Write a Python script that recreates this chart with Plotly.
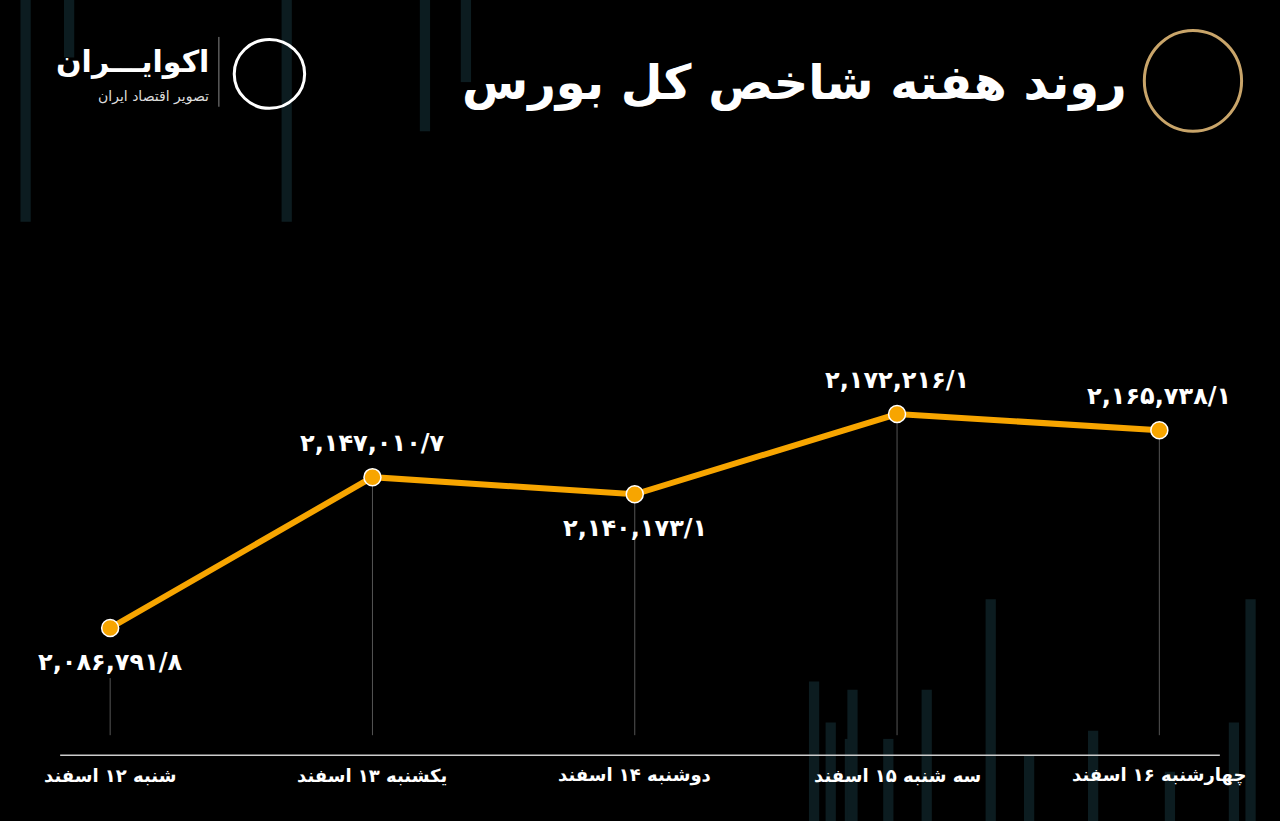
import plotly.graph_objects as go

days = ["شنبه ۱۲ اسفند", "یکشنبه ۱۳ اسفند", "دوشنبه ۱۴ اسفند", "سه شنبه ۱۵ اسفند", "چهارشنبه ۱۶ اسفند"]
index_values = [2086791.8, 2147010.7, 2140173.1, 2172216.1, 2165738.1]
label_pos = ["below", "above", "below", "above", "above"]

FA = str.maketrans("0123456789", "۰۱۲۳۴۵۶۷۸۹")
def fa_num(v):
    whole, dec = f"{v:,.1f}".split(".")
    return (whole + "/" + dec).translate(FA)

font = "DejaVu Sans"
x = list(range(len(days)))
y_bottom = 2044000

fig = go.Figure()

# faint decorative bars in the background
deco = [(0.016, 0.0, 0.27), (0.05, 0.0, 0.07), (0.22, 0.0, 0.27), (0.328, 0.0, 0.16),
        (0.36, 0.0, 0.10), (0.632, 0.83, 1.0), (0.645, 0.88, 1.0), (0.66, 0.90, 1.0), (0.662, 0.84, 1.0),
        (0.69, 0.90, 1.0), (0.72, 0.84, 1.0), (0.77, 0.73, 1.0), (0.80, 0.92, 1.0), (0.85, 0.89, 1.0),
        (0.91, 0.94, 1.0), (0.96, 0.88, 1.0), (0.973, 0.73, 1.0)]
for xp, y0, y1 in deco:
    fig.add_shape(type="rect", xref="paper", yref="paper", x0=xp, x1=xp + 0.008,
                  y0=1 - y1, y1=1 - y0, fillcolor="#0c1c20", line_width=0, layer="below")

for i, v in enumerate(index_values):
    top = v - 20000 if label_pos[i] == "below" and i == 0 else v
    fig.add_trace(go.Scatter(x=[i, i], y=[top, y_bottom], mode="lines",
                             line=dict(color="#555", width=1), hoverinfo="skip", showlegend=False))

fig.add_trace(go.Scatter(x=x, y=index_values, mode="lines+markers",
                         line=dict(color="#F7A500", width=6),
                         marker=dict(size=17, color="#F7A500", line=dict(color="white", width=1.5)),
                         showlegend=False))

for i, v in enumerate(index_values):
    fig.add_annotation(x=i, y=v, text=fa_num(v), showarrow=False,
                       yshift=-34 if label_pos[i] == "below" else 34,
                       font=dict(family=font, size=24, color="white", weight="bold"))
    fig.add_annotation(x=i, y=0.056, yref="paper", yanchor="middle", text=days[i], showarrow=False,
                       font=dict(family=font, size=18, color="white", weight="bold"))

fig.add_shape(type="line", xref="paper", yref="paper", x0=0.047, x1=0.953, y0=0.08, y1=0.08,
              line=dict(color="#cccccc", width=1.5))

fig.add_annotation(x=0.882, y=0.90, xref="paper", yref="paper", xanchor="right", yanchor="middle",
                   text="روند هفته شاخص کل بورس",
                   showarrow=False, font=dict(family=font, size=48, color="white", weight="bold"))
fig.add_annotation(x=0.165, y=0.925, xref="paper", yref="paper", xanchor="right", yanchor="middle",
                   text="اکوایـــران",
                   showarrow=False, font=dict(family=font, size=30, color="white", weight="bold"))
fig.add_annotation(x=0.165, y=0.882, xref="paper", yref="paper", xanchor="right", yanchor="middle",
                   text="تصویر اقتصاد ایران",
                   showarrow=False, font=dict(family=font, size=14, color="#dddddd"))
fig.add_shape(type="line", xref="paper", yref="paper", x0=0.171, x1=0.171, y0=0.87, y1=0.955,
              line=dict(color="#888", width=1))
fig.add_shape(type="circle", xref="paper", yref="paper", x0=0.183, x1=0.238, y0=0.868, y1=0.952,
              line=dict(color="white", width=3))
fig.add_shape(type="circle", xref="paper", yref="paper", x0=0.894, x1=0.97, y0=0.84, y1=0.963,
              line=dict(color="#c9a56a", width=3))

fig.update_layout(width=1280, height=821, margin=dict(l=0, r=0, t=0, b=0),
                  paper_bgcolor="black", plot_bgcolor="black",
                  xaxis=dict(range=[-0.42, 4.46], visible=False),
                  yaxis=dict(range=[2009746, 2337491], visible=False))
fig.write_html("out.html", config={"displayModeBar": False},
               post_script="document.body.style.margin='0';document.body.style.background='black';")
